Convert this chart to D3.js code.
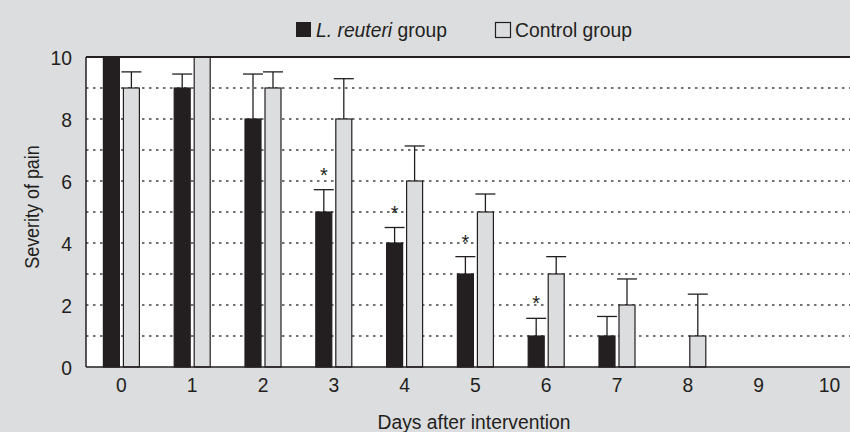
<!DOCTYPE html>
<html>
<head>
<meta charset="UTF-8">
<title></title>
<script src="https://cdn.jsdelivr.net/npm/d3@7"></script>
<style>
    body{margin:0;background:#dcdddf;}
    text{font-family:"Liberation Sans",Arial,Helvetica,sans-serif;fill:#231f20;}
</style>
</head>
<body>
<div id="chart"></div>
<script>
    // data
    var days=[0,1,2,3,4,5,6,7,8,9,10];
    var reuteri=[10,9,8,5,4,3,1,1,0,0,0];
    var reuteriErr=[0,0.45,1.45,0.72,0.5,0.56,0.57,0.63,0,0,0];
    var control=[9,10,9,8,6,5,3,2,1,0,0];
    var controlErr=[0.52,0,0.52,1.3,1.13,0.58,0.56,0.84,1.35,0,0];
    var signif=[false,false,false,true,true,true,true,false,false,false,false];
    var yTicks=[0,2,4,6,8,10];
    var gridVals=[1,2,3,4,5,6,7,8,9];

    var W=850,H=432;
    var mLeft=86,mTop=57,mBottom=367;
    var ink='#231f20',paper='#dcdddf';
    var sx=0.92; // type in the figure is a bit condensed

    var svg=d3.select('#chart').append('svg')
            .attr('width',W).attr('height',H);
    svg.append('rect').attr('width',W).attr('height',H).attr('fill',paper);

    var x=d3.scaleBand().domain(days).range([mLeft,mLeft+11*70.8]).padding(0);
    var x1=d3.scaleBand().domain(['r','c']).range([-18,18]).paddingInner(0.2);
    var y=d3.scaleLinear().domain([0,10]).range([mBottom,mTop]);
    var cx=function(d){return x(d)+x.bandwidth()/2};

    // plot area
    svg.append('rect').attr('x',mLeft).attr('y',mTop)
            .attr('width',W-mLeft).attr('height',mBottom-mTop).attr('fill','#fff');

    svg.append('g').selectAll('line').data(gridVals).enter().append('line')
            .attr('x1',mLeft).attr('x2',W)
            .attr('y1',function(d){return y(d)}).attr('y2',function(d){return y(d)})
            .attr('stroke','#444').attr('stroke-width',1.3)
            .attr('stroke-dasharray','2.5,4.5');

    var rows=days.map(function(d,i){
        return [
            {day:d,key:'r',v:reuteri[i],e:reuteriErr[i],star:signif[i],fill:ink},
            {day:d,key:'c',v:control[i],e:controlErr[i],star:false,fill:paper}
        ];
    });
    var marks=[].concat.apply([],rows);
    var mid=function(d){return cx(d.day)+x1(d.key)+x1.bandwidth()/2};

    // error bars (upper only)
    var eb=svg.append('g').selectAll('g').data(marks.filter(function(d){return d.e>0})).enter().append('g')
            .attr('stroke',ink).attr('stroke-width',1.3);
    eb.append('line')
            .attr('x1',mid).attr('x2',mid)
            .attr('y1',function(d){return y(d.v)}).attr('y2',function(d){return y(d.v+d.e)});
    eb.append('line')
            .attr('x1',function(d){return mid(d)-10})
            .attr('x2',function(d){return mid(d)+10})
            .attr('y1',function(d){return y(d.v+d.e)}).attr('y2',function(d){return y(d.v+d.e)});

    svg.append('g').selectAll('rect').data(marks.filter(function(d){return d.v>0})).enter().append('rect')
            .attr('x',function(d){return cx(d.day)+x1(d.key)})
            .attr('y',function(d){return y(d.v)})
            .attr('width',x1.bandwidth())
            .attr('height',function(d){return mBottom-y(d.v)})
            .attr('fill',function(d){return d.fill})
            .attr('stroke',ink).attr('stroke-width',1.2);

    svg.append('g').selectAll('text').data(marks.filter(function(d){return d.star})).enter().append('text')
            .attr('x',mid)
            .attr('y',function(d){return y(d.v+d.e)-8})
            .attr('text-anchor','middle').style('font-size','20px')
            .text('*');

    // frame
    svg.append('line').attr('x1',mLeft).attr('x2',W).attr('y1',mTop).attr('y2',mTop)
            .attr('stroke',ink).attr('stroke-width',2);
    svg.append('line').attr('x1',mLeft).attr('x2',W).attr('y1',mBottom).attr('y2',mBottom)
            .attr('stroke',ink).attr('stroke-width',1.5);
    svg.append('line').attr('x1',mLeft).attr('x2',mLeft).attr('y1',mTop).attr('y2',mBottom)
            .attr('stroke',ink).attr('stroke-width',1.5);

    function place(px,py,rot){
        return 'translate('+px+','+py+')'+(rot?' rotate('+rot+')':'')+' scale('+sx+',1)';
    }

    // axes labels
    svg.append('g').selectAll('text').data(yTicks).enter().append('text')
            .attr('transform',function(d){return place(72,y(d))})
            .attr('dy','0.36em').attr('text-anchor','end')
            .style('font-size','21px').text(function(d){return d});
    svg.append('g').selectAll('text').data(days).enter().append('text')
            .attr('transform',function(d){return place(cx(d),392)})
            .attr('text-anchor','middle')
            .style('font-size','21px').text(function(d){return d});

    svg.append('text').attr('transform',place(474,429))
            .attr('text-anchor','middle')
            .style('font-size','21px').text('Days after intervention');
    svg.append('text').attr('transform',place(39,207,-90))
            .attr('text-anchor','middle').style('font-size','19.5px')
            .text('Severity of pain');

    // legend
    var lg=svg.append('g');
    lg.append('rect').attr('x',296).attr('y',22).attr('width',15).attr('height',15).attr('fill',ink);
    var t1=lg.append('text').attr('transform',place(316,37)).style('font-size','21px');
    t1.append('tspan').style('font-style','italic').text('L. reuteri');
    t1.append('tspan').text(' group');
    lg.append('rect').attr('x',495.5).attr('y',22.5).attr('width',15).attr('height',15)
            .attr('fill','none').attr('stroke',ink).attr('stroke-width',1.2);
    lg.append('text').attr('transform',place(515,37)).style('font-size','21px').text('Control group');
</script>
</body>
</html>
